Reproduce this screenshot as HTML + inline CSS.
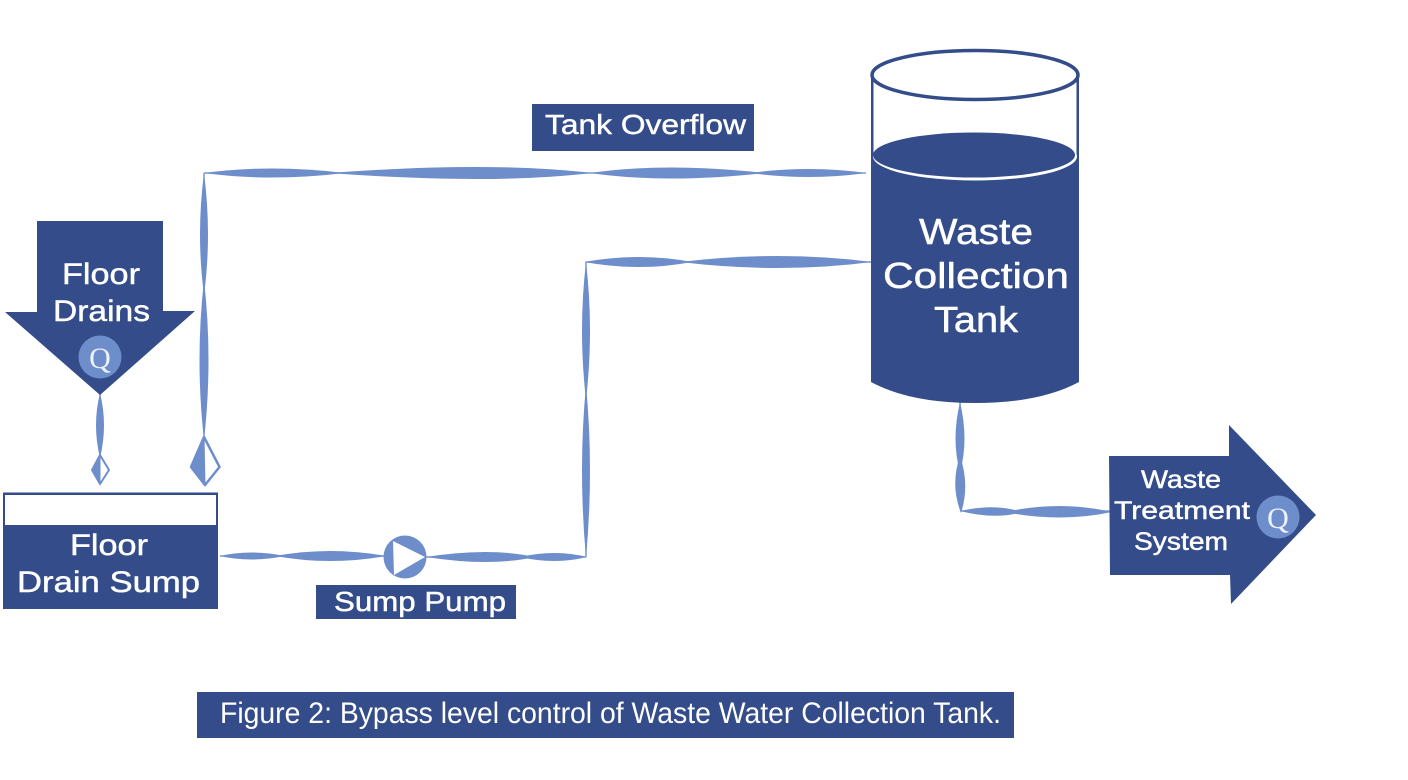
<!DOCTYPE html>
<html>
<head>
<meta charset="utf-8">
<style>
html,body{margin:0;padding:0;background:#fff;}
svg{display:block;}
text{font-family:"Liberation Sans",sans-serif;fill:#fff;stroke:#fff;stroke-width:.45px;}
text.q{font-family:"Liberation Serif",serif;stroke:none;fill:#eef2fa;}
text.c{stroke:none;}
</style>
</head>
<body>
<svg width="1408" height="780" viewBox="0 0 1408 780" xmlns="http://www.w3.org/2000/svg">
<rect width="1408" height="780" fill="#fff"/>

<!-- Pipes -->
<g fill="#6e8ecb">
  <!-- core lines -->
  <path d="M204 173 H866 M204 173 V440 M586 262 H872 M586 262 V557 M220 556 H386 M426 557 H586 M100 393 V458 M960 402 L961 511 H1112" fill="none" stroke="#7f9bd2" stroke-width="1.500"/>
  <!-- overflow horizontal -->
  <path d="M204 173 Q270 164 345 173 Q270 182 204 173Z"/>
  <path d="M330 173 Q490 161 592 173 Q490 185 330 173Z"/>
  <path d="M590 173 Q665 162 765 173 Q665 184 590 173Z"/>
  <path d="M750 173 Q810 165 866 173 Q810 181 750 173Z"/>
  <!-- overflow vertical -->
  <path d="M204 173 Q196 235 204 295 Q212 235 204 173Z"/>
  <path d="M204 280 Q195 360 204 440 Q213 360 204 280Z"/>
  <!-- inlet horizontal -->
  <path d="M584 262 Q640 252 692 262 Q640 272 584 262Z"/>
  <path d="M680 262 Q780 250 872 262 Q780 274 680 262Z"/>
  <!-- pump riser -->
  <path d="M586 262 Q578 330 586 400 Q594 330 586 262Z"/>
  <path d="M586 385 Q578 470 586 558 Q594 470 586 385Z"/>
  <!-- pump line -->
  <path d="M220 556 Q250 549 285 556 Q250 563 220 556Z"/>
  <path d="M275 556 Q330 546 386 556 Q330 566 275 556Z"/>
  <path d="M426 557 Q490 547 535 557 Q490 567 426 557Z"/>
  <path d="M520 557 Q555 549 587 557 Q555 565 520 557Z"/>
  <!-- drain pipe -->
  <path d="M100 393 Q92 425 100 458 Q108 425 100 393Z"/>
  <!-- outlet -->
  <path d="M960 402 Q951 440 960 472 Q969 440 960 402Z"/>
  <path d="M960 456 Q950 485 961 513 Q970 485 960 456Z"/>
  <path d="M960 511 Q995 503 1022 512 Q995 520 960 511Z"/>
  <path d="M1005 512 Q1060 500 1112 512 Q1060 523 1005 512Z"/>
</g>

<!-- Valves -->
<path d="M100 455 L109 470 L100 484 L92 470Z" fill="#fff" stroke="#6e8ecb" stroke-width="2" stroke-linejoin="round"/>
<path d="M100 455 L100 484 L92 470Z" fill="#6e8ecb" stroke="#6e8ecb" stroke-width="1"/>
<path d="M204 437 L219.500 467 L205 485 L191 467Z" fill="#fff" stroke="#6e8ecb" stroke-width="2.500" stroke-linejoin="round"/>
<path d="M204 437 L205 485 L191 467Z" fill="#6e8ecb" stroke="#6e8ecb" stroke-width="1"/>

<!-- Floor Drains arrow -->
<polygon points="37,221 163,221 163,311 195,311 100,395 5,312 37,312" fill="#344d8a"/>
<circle cx="100" cy="357" r="21.500" fill="#6e8ecb"/>
<text class="q" x="100" y="368" font-size="30" text-anchor="middle">Q</text>
<text x="62" y="284" font-size="30" textLength="78" lengthAdjust="spacingAndGlyphs">Floor</text>
<text x="53" y="321" font-size="30" textLength="97" lengthAdjust="spacingAndGlyphs">Drains</text>

<!-- Sump -->
<rect x="3" y="492.500" width="215" height="116.500" fill="#344d8a"/>
<rect x="5" y="495" width="211" height="30" fill="#fff"/>
<text x="70" y="555" font-size="30" textLength="78" lengthAdjust="spacingAndGlyphs">Floor</text>
<text x="17" y="592" font-size="30" textLength="183" lengthAdjust="spacingAndGlyphs">Drain Sump</text>

<!-- Pump -->
<circle cx="405" cy="557" r="21.500" fill="#6e8ecb"/>
<polygon points="393,541 425,557 394,575" fill="#fff"/>
<rect x="316" y="585" width="200" height="34" fill="#344d8a"/>
<text x="334" y="611" font-size="28" textLength="172" lengthAdjust="spacingAndGlyphs">Sump Pump</text>

<!-- Tank Overflow -->
<rect x="532" y="104" width="222" height="47" fill="#344d8a"/>
<text x="545" y="134" font-size="28" textLength="201" lengthAdjust="spacingAndGlyphs">Tank Overflow</text>

<!-- Tank -->
<path d="M871 75 H1079 V382 Q1040 403 975 403 Q910 403 871 382Z" fill="#344d8a"/>
<rect x="873.500" y="75" width="203" height="83" fill="#fff"/>
<ellipse cx="975" cy="75" rx="103" ry="24.500" fill="#fff" stroke="#344d8a" stroke-width="3.500"/>
<ellipse cx="975" cy="156.500" rx="102" ry="24" fill="#fff"/>
<ellipse cx="974" cy="155" rx="101" ry="22.500" fill="#344d8a"/>
<text x="919" y="244" font-size="36" textLength="114" lengthAdjust="spacingAndGlyphs">Waste</text>
<text x="883" y="288" font-size="36" textLength="186" lengthAdjust="spacingAndGlyphs">Collection</text>
<text x="934" y="332" font-size="36" textLength="84" lengthAdjust="spacingAndGlyphs">Tank</text>

<!-- Waste Treatment arrow -->
<polygon points="1109,456 1229,456 1229,425 1316,515 1231,604 1230,575 1110,575" fill="#344d8a"/>
<circle cx="1278" cy="517" r="21.500" fill="#6e8ecb"/>
<text class="q" x="1278" y="528" font-size="30" text-anchor="middle">Q</text>
<text x="1141" y="488" font-size="25" textLength="80" lengthAdjust="spacingAndGlyphs">Waste</text>
<text x="1114" y="519" font-size="25" textLength="136" lengthAdjust="spacingAndGlyphs">Treatment</text>
<text x="1134" y="550" font-size="25" textLength="94" lengthAdjust="spacingAndGlyphs">System</text>

<!-- Caption -->
<rect x="197" y="692" width="817" height="46" fill="#344d8a"/>
<text class="c" x="220" y="723" font-size="30" textLength="781" lengthAdjust="spacingAndGlyphs">Figure 2: Bypass level control of Waste Water Collection Tank.</text>
</svg>
</body>
</html>
